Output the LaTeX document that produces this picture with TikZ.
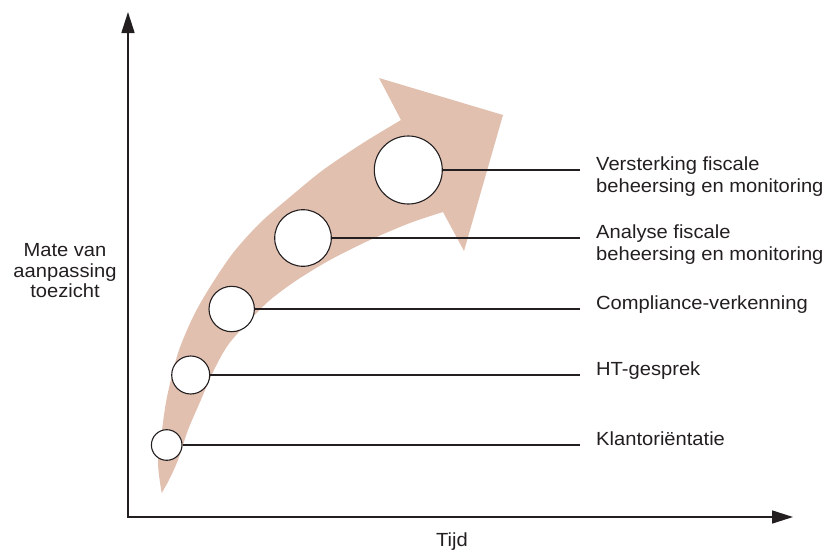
\documentclass[tikz,border=0pt]{standalone}
\usepackage{fontspec}
\setmainfont{Liberation Sans}[FakeStretch=1.06]
\usetikzlibrary{arrows.meta}
\definecolor{arrowc}{RGB}{225,192,176}
\definecolor{ink}{RGB}{35,31,32}
\begin{document}
\begin{tikzpicture}[x=1pt,y=-1pt,
  stage/.style={circle,draw=ink,fill=white,line width=1.1pt,inner sep=0pt},
  lead/.style={draw=ink,line width=1.4pt},
  lbl/.style={anchor=base west,align=left,font=\fontsize{19}{22}\selectfont,inner sep=0pt,text=ink},
  axisline/.style={line width=1.6pt,draw=ink,{Triangle[length=21pt,width=13pt]}-{Triangle[length=21pt,width=13pt]}}]
\useasboundingbox (0,0) rectangle (827,549);
% big curved arrow
\fill[arrowc] plot[smooth,tension=0.5] coordinates {(161.7,493) (158,463) (162,430) (167,397) (178,353) (193,317) (210,287) (233,253) (260,223) (290,197) (323,170) (363,143) (401,120)}
  -- (379,78) -- (503,115) -- (464,251) -- (443,212)
  -- plot[smooth,tension=0.5] coordinates {(443,212) (410,223) (370,240) (330,260) (297,280) (270,300) (250,320) (228,345) (213,372) (200,402) (188,430) (178,460) (169,480) (161.7,493)} -- cycle;
% axes
\coordinate (ytop) at (128,12);
\coordinate (O) at (128,517);
\coordinate (xend) at (793,517);
\draw[axisline] (ytop) -- (O) -- (xend);
% stages
\node[stage,minimum size=30.6pt] (c1) at (166.7,445) {};
\node[stage,minimum size=38pt] (c2) at (190.7,375) {};
\node[stage,minimum size=45.4pt] (c3) at (231.7,309) {};
\node[stage,minimum size=56.6pt] (c4) at (303,238) {};
\node[stage,minimum size=68pt] (c5) at (408.3,170) {};
\coordinate (e1) at (580,445);
\coordinate (e2) at (580,375);
\coordinate (e3) at (580,309);
\coordinate (e4) at (580,238);
\coordinate (e5) at (580,170);
\draw[lead] (c1.east) -- (e1);
\draw[lead] (c2.east) -- (e2);
\draw[lead] (c3.east) -- (e3);
\draw[lead] (c4.east) -- (e4);
\draw[lead] (c5.east) -- (e5);
\node[lbl] (t1) at (596,445) {Klantoriëntatie};
\node[lbl] (t2) at (596,375) {HT-gesprek};
\node[lbl] (t3) at (596,309.5) {Compliance-verkenning};
\node[lbl] (t4) at (596,260) {Analyse fiscale\\beheersing en monitoring};
\node[lbl] (t5) at (596,192) {Versterking fiscale\\beheersing en monitoring};
\node[anchor=base,align=center,font=\fontsize{19}{20.5}\selectfont,inner sep=0pt,text=ink] (ylab) at (65,297.5) {Mate van\\aanpassing\\toezicht};
\node[anchor=base,font=\fontsize{19}{22}\selectfont,inner sep=0pt,text=ink] (xlab) at (452,546) {Tijd};
\end{tikzpicture}
\end{document}
